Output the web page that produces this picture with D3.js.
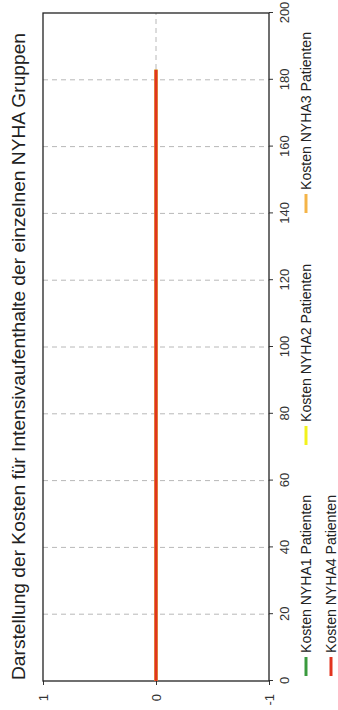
<!DOCTYPE html>
<html><head><meta charset="utf-8">
<script src="https://cdn.jsdelivr.net/npm/d3@7"></script>
<style>html,body{margin:0;padding:0;background:#fff;}svg{display:block;}</style>
</head><body>
<svg id="c" width="338" height="710"></svg>
<script>
const title = "Darstellung der Kosten für Intensivaufenthalte der einzelnen NYHA Gruppen";
const xTicks = [0,20,40,60,80,100,120,140,160,180,200];
const yTicks = [-1,0,1];
const xValues = [0,183];
const seriesNames = ["Kosten NYHA1 Patienten","Kosten NYHA2 Patienten","Kosten NYHA3 Patienten","Kosten NYHA4 Patienten"];
const seriesColors = ["#3a9a3e","#f2f21c","#f4b448","#e2341f"];
const nyha1 = [0,0];
const nyha2 = [0,0];
const nyha3 = [0,0];
const nyha4 = [0,0];
const seriesValues = [nyha1,nyha2,nyha3,nyha4];

const W = 710, H = 338;
const m = {left:29, right:13, top:43, bottom:69};
const svg = d3.select("#c");
const g = svg.append("g").attr("transform","translate(0,710) rotate(-90)");
const font = "'Liberation Sans', Arial, sans-serif";

const x = d3.scaleLinear().domain([0,200]).range([m.left, W-m.right]);
const y = d3.scaleLinear().domain([-1,1]).range([H-m.bottom, m.top]);

// title
g.append("text").attr("x", m.left+1).attr("y", 25)
  .attr("font-family", font).attr("font-size", 18).attr("fill","#222")
  .attr("textLength", 647).attr("lengthAdjust","spacingAndGlyphs")
  .text(title);

// grid
const grid = g.append("g").attr("stroke","#b8b8b8").attr("stroke-dasharray","5,4").attr("stroke-width",1);
xTicks.slice(1,-1).forEach(v=>{
  grid.append("line").attr("x1",x(v)).attr("x2",x(v)).attr("y1",y(1)).attr("y2",y(-1));
});
yTicks.slice(1,-1).forEach(v=>{
  grid.append("line").attr("x1",x(0)).attr("x2",x(200)).attr("y1",y(v)).attr("y2",y(v));
});

// axes
const xAxis = g.append("g").attr("transform",`translate(0,${y(-1)})`)
  .call(d3.axisBottom(x).tickValues(xTicks).tickSize(4).tickPadding(7).tickFormat(d3.format("d")));
const yAxis = g.append("g").attr("transform",`translate(${x(0)},0)`)
  .call(d3.axisLeft(y).tickValues(yTicks).tickSize(4).tickPadding(9).tickFormat(d3.format("d")));
[xAxis,yAxis].forEach(a=>{
  a.selectAll("text").attr("font-family",font).attr("font-size",13).attr("fill","#333");
  a.selectAll("line").attr("stroke","#333");
  a.select(".domain").remove();
});
yAxis.selectAll("text").text(d=> d<0 ? "-"+Math.abs(d) : d);

// frame
g.append("rect").attr("x",x(0)).attr("y",y(1)).attr("width",x(200)-x(0)).attr("height",y(-1)-y(1))
  .attr("fill","none").attr("stroke","#222").attr("stroke-width",1.3);

// lines
const line = d3.line().x((d,i)=>x(xValues[i])).y(d=>y(d));
seriesValues.forEach((vals,i)=>{
  g.append("path").datum(vals).attr("d",line).attr("fill","none")
    .attr("stroke",seriesColors[i]).attr("stroke-width",3);
});

// legend
const legPos = [[34,306],[265,306],[497,306],[34,331]];
seriesNames.forEach((n,i)=>{
  const [lx,ly] = legPos[i];
  g.append("line").attr("x1",lx).attr("x2",lx+19).attr("y1",ly).attr("y2",ly)
    .attr("stroke",seriesColors[i]).attr("stroke-width",3);
  g.append("text").attr("x",lx+23).attr("y",ly+5)
    .attr("font-family",font).attr("font-size",14).attr("fill","#222")
    .attr("textLength",158).attr("lengthAdjust","spacingAndGlyphs").text(n);
});
</script>
</body></html>
